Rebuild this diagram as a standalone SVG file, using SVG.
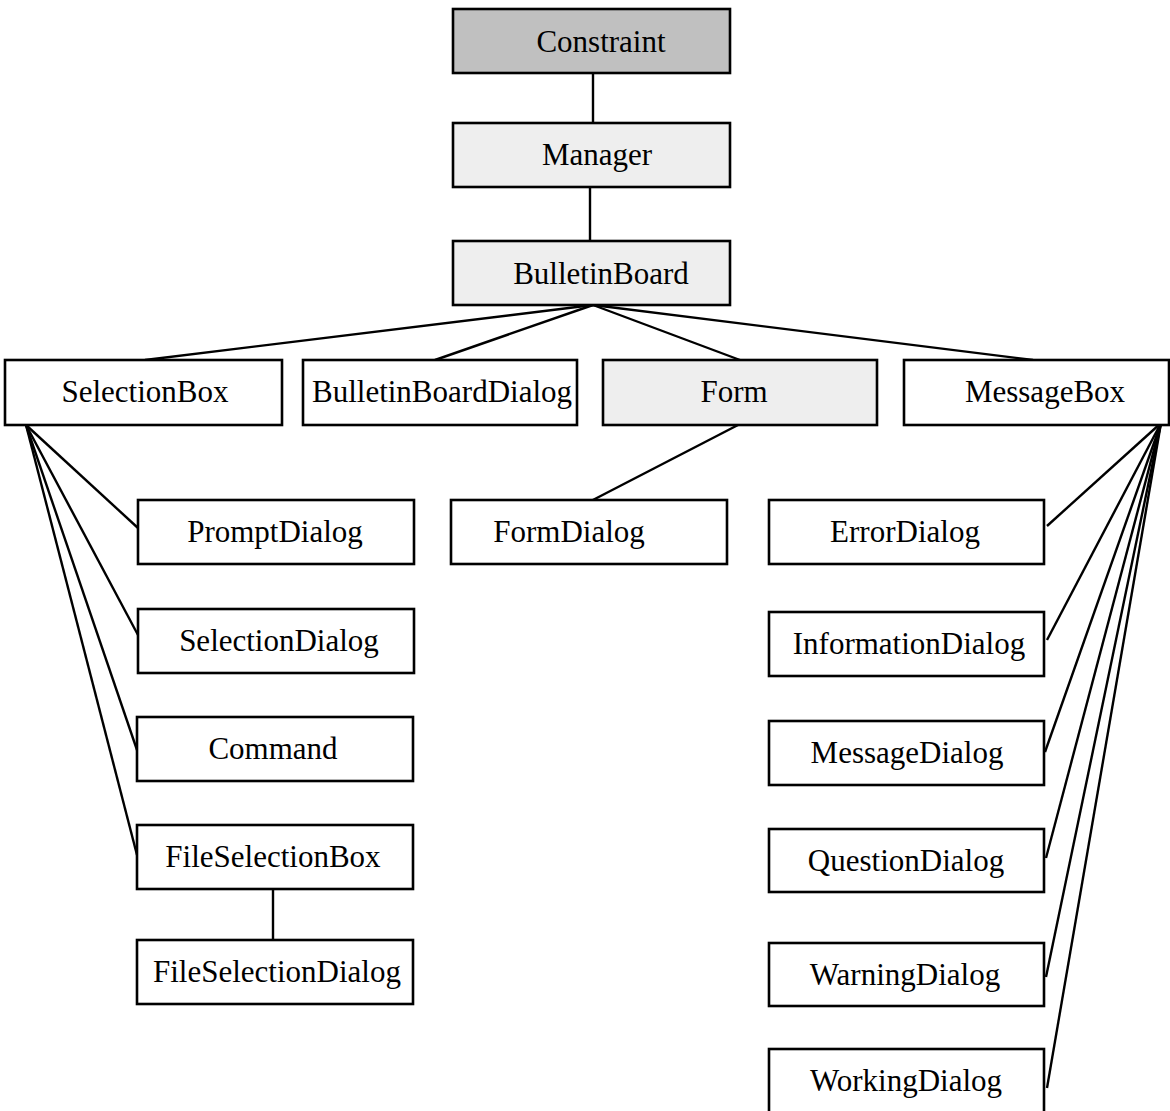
<svg xmlns="http://www.w3.org/2000/svg" width="1170" height="1111" viewBox="0 0 1170 1111">
<style>
rect{stroke:#000;stroke-width:2.6;fill:#fff}
rect.g{fill:#c0c0c0}
rect.l{fill:#eeeeee}
text{font-family:"Liberation Serif","Times New Roman",serif;font-size:31px;text-anchor:middle;fill:#000}
#connectors line{stroke:#000;stroke-width:2.4}
</style>
<rect x="0" y="0" width="1170" height="1111" style="fill:#fff;stroke:none"/>
<g id="connectors">
<line x1="593" y1="73" x2="593" y2="123"/>
<line x1="590" y1="187" x2="590" y2="241"/>
<line x1="593" y1="305" x2="145" y2="360"/>
<line x1="593" y1="305" x2="435" y2="360"/>
<line x1="593" y1="305" x2="740" y2="360"/>
<line x1="593" y1="305" x2="1033" y2="360"/>
<line x1="26" y1="425" x2="138" y2="528"/>
<line x1="26" y1="425" x2="138" y2="635"/>
<line x1="26" y1="425" x2="137" y2="750"/>
<line x1="26" y1="425" x2="137" y2="855"/>
<line x1="273" y1="889" x2="273" y2="940"/>
<line x1="738" y1="425" x2="589" y2="502"/>
<line x1="1161" y1="423" x2="1047" y2="526"/>
<line x1="1161" y1="423" x2="1047" y2="640"/>
<line x1="1161" y1="423" x2="1045" y2="752"/>
<line x1="1161" y1="423" x2="1046" y2="858"/>
<line x1="1161" y1="423" x2="1046" y2="977"/>
<line x1="1161" y1="423" x2="1047" y2="1088"/>
</g>
<g id="constraint"><rect class="g" x="453" y="9" width="277" height="64"/><text x="601" y="52">Constraint</text></g>
<g id="manager"><rect class="l" x="453" y="123" width="277" height="64"/><text x="597" y="165">Manager</text></g>
<g id="bulletinboard"><rect class="l" x="453" y="241" width="277" height="64"/><text x="601" y="284">BulletinBoard</text></g>
<g id="selectionbox"><rect x="5" y="360" width="277" height="65"/><text x="145" y="402">SelectionBox</text></g>
<g id="bulletinboarddialog"><rect x="303" y="360" width="274" height="65"/><text x="442" y="402">BulletinBoardDialog</text></g>
<g id="form"><rect class="l" x="603" y="360" width="274" height="65"/><text x="734" y="402">Form</text></g>
<g id="messagebox"><rect x="904" y="360" width="265" height="65"/><text x="1045" y="402">MessageBox</text></g>
<g id="promptdialog"><rect x="138" y="500" width="276" height="64"/><text x="275" y="542">PromptDialog</text></g>
<g id="formdialog"><rect x="451" y="500" width="276" height="64"/><text x="569" y="542">FormDialog</text></g>
<g id="errordialog"><rect x="769" y="500" width="275" height="64"/><text x="905" y="542">ErrorDialog</text></g>
<g id="selectiondialog"><rect x="138" y="609" width="276" height="64"/><text x="279" y="651">SelectionDialog</text></g>
<g id="informationdialog"><rect x="769" y="612" width="275" height="64"/><text x="909" y="654">InformationDialog</text></g>
<g id="command"><rect x="137" y="717" width="276" height="64"/><text x="273" y="759">Command</text></g>
<g id="messagedialog"><rect x="769" y="721" width="275" height="64"/><text x="907" y="763">MessageDialog</text></g>
<g id="fileselectionbox"><rect x="137" y="825" width="276" height="64"/><text x="273" y="867">FileSelectionBox</text></g>
<g id="questiondialog"><rect x="769" y="829" width="275" height="63"/><text x="906" y="871">QuestionDialog</text></g>
<g id="fileselectiondialog"><rect x="137" y="940" width="276" height="64"/><text x="277" y="982">FileSelectionDialog</text></g>
<g id="warningdialog"><rect x="769" y="943" width="275" height="63"/><text x="905" y="985">WarningDialog</text></g>
<g id="workingdialog"><rect x="769" y="1049" width="275" height="70"/><text x="906" y="1091">WorkingDialog</text></g>
</svg>
